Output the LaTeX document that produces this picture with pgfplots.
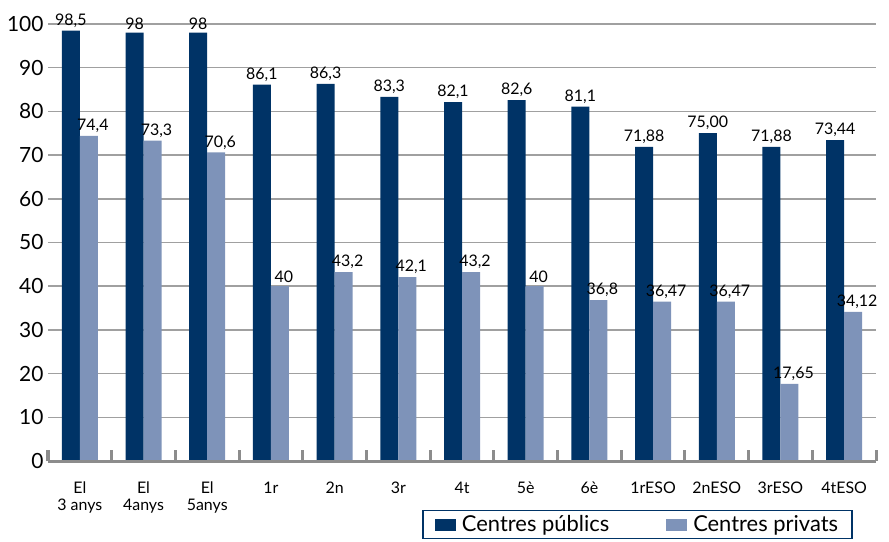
\documentclass[border=0pt]{standalone}
\usepackage{pgfplots}
\usepackage{pgfplotstable}
\pgfplotsset{compat=1.18}
\usepackage{fontspec}
\setmainfont{Lato}
\definecolor{dark}{RGB}{0,51,102}
\definecolor{light}{RGB}{126,147,185}
\definecolor{gridgray}{RGB}{160,160,160}
\definecolor{axgray}{RGB}{140,140,140}

\pgfplotstableread{
x pub publ priv privl
0 98.5 {98,5} 74.4 {74,4}
1 98 {98} 73.3 {73,3}
2 98 {98} 70.6 {70,6}
3 86.1 {86,1} 40 {40}
4 86.3 {86,3} 43.2 {43,2}
5 83.3 {83,3} 42.1 {42,1}
6 82.1 {82,1} 43.2 {43,2}
7 82.6 {82,6} 40 {40}
8 81.1 {81,1} 36.8 {36,8}
9 71.88 {71,88} 36.47 {36,47}
10 75.00 {75,00} 36.47 {36,47}
11 71.88 {71,88} 17.65 {17,65}
12 73.44 {73,44} 34.12 {34,12}
}\data

\begin{document}
\begin{tikzpicture}
\begin{axis}[
  scale only axis,
  width=828bp, height=437bp,
  ymin=0, ymax=100,
  xmin=-0.5, xmax=12.5,
  ybar=0pt, bar width=18bp,
  clip=false,
  axis line style={draw=none},
  ytick={0,10,...,100},
  ytick style={draw=none},
  ymajorgrids,
  grid style={gridgray, line width=1.5bp},
  xtick={0,...,12},
  xticklabels={{El\\3 anys},{El\\4anys},{El\\5anys},1r,2n,3r,4t,5è,6è,1rESO,2nESO,3rESO,4tESO},
  xtick pos=bottom,
  xtick style={draw=none},
  xticklabel style={align=center, font=\fontsize{16}{17}\selectfont, yshift=-13bp},
  yticklabel style={font=\fontsize{21}{21}\selectfont, xshift=-1bp},
  /pgf/number format/assume math mode=true,
  nodes near coords,
  point meta=explicit symbolic,
  every node near coord/.append style={font=\fontsize{16}{16}\selectfont, color=black, inner sep=3bp},
  legend columns=2,
  legend style={draw=dark, line width=1.5bp, font=\fontsize{22}{22}\selectfont,
    at={(axis description cs:0.972,-0.112)}, anchor=north east,
    inner xsep=12bp, inner ysep=3bp,
    /tikz/every odd column/.append style={column sep=4bp},
    /tikz/every even column/.append style={column sep=55bp}},
  legend image code/.code={\path[#1] (0bp,-6bp) rectangle (21bp,6bp);},
]
\addplot[fill=dark, draw=none] table[x=x, y=pub, meta=publ] {\data};
\addplot[fill=light, draw=none, every node near coord/.append style={xshift=4bp}] table[x=x, y=priv, meta=privl] {\data};
\legend{Centres públics, Centres privats}
\draw[axgray, line width=3bp] (rel axis cs:0,0) -- (rel axis cs:1,0);
\pgfplotsinvokeforeach{-0.5,0.5,...,12.5}{
  \draw[axgray, line width=3bp] (axis cs:#1,0) -- ([yshift=11bp]axis cs:#1,0);
}
\coordinate (bl) at (rel axis cs:0,0);
\coordinate (tr) at (rel axis cs:1,1);
\end{axis}
\pgfresetboundingbox
\path[use as bounding box] ([xshift=-48bp,yshift=-81bp]bl) rectangle ([xshift=13bp,yshift=24bp]tr);
\end{tikzpicture}
\end{document}
